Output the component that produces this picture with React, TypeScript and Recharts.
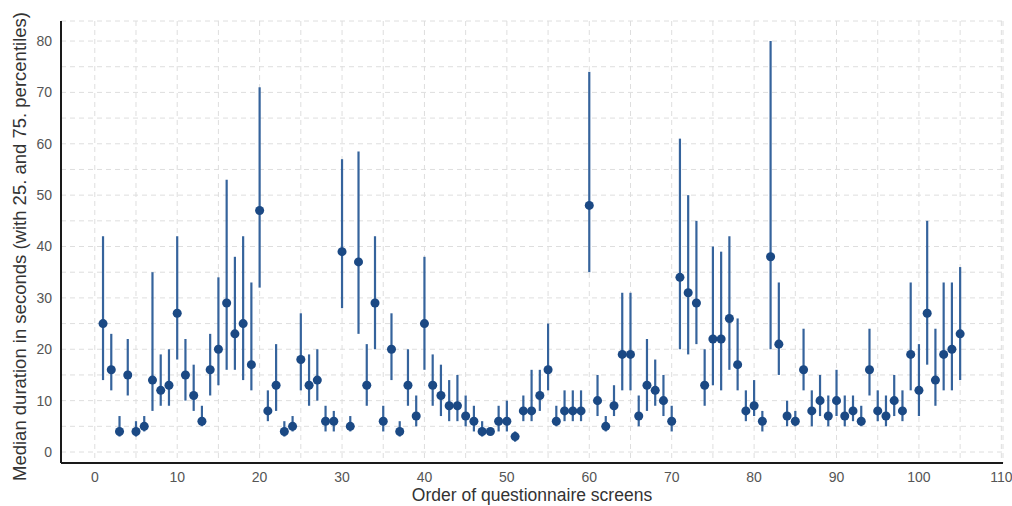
import React from "react";
import { ScatterChart, Scatter, XAxis, YAxis, CartesianGrid, ErrorBar, Label } from "recharts";

// screen order 1..105
const screens = Array.from({ length: 105 }, (_, i) => i + 1);

const medians = [
  25, 16, 4, 15, 4, 5, 14, 12, 13, 27,
  15, 11, 6, 16, 20, 29, 23, 25, 17, 47,
  8, 13, 4, 5, 18, 13, 14, 6, 6, 39,
  5, 37, 13, 29, 6, 20, 4, 13, 7, 25,
  13, 11, 9, 9, 7, 6, 4, 4, 6, 6,
  3, 8, 8, 11, 16, 6, 8, 8, 8, 48,
  10, 5, 9, 19, 19, 7, 13, 12, 10, 6,
  34, 31, 29, 13, 22, 22, 26, 17, 8, 9,
  6, 38, 21, 7, 6, 16, 8, 10, 7, 10,
  7, 8, 6, 16, 8, 7, 10, 8, 19, 12,
  27, 14, 19, 20, 23,
];

const p25 = [
  14, 12, 3, 11, 3, 4, 8, 9, 9, 18,
  10, 8, 5, 11, 13, 16, 16, 14, 12, 32,
  6, 8, 3, 4, 12, 9, 10, 4, 4, 28,
  4, 23, 9, 20, 4, 14, 3, 9, 5, 16,
  9, 7, 6, 6, 5, 4, 3, 3.5, 4, 4,
  2, 6, 6, 8, 12, 5, 6, 6, 6, 35,
  7, 4, 7, 12, 12, 5, 8, 9, 7, 4,
  20, 19, 21, 9, 13, 12, 16, 12, 6, 7,
  4, 20, 15, 5, 5, 12, 5, 7, 5, 7,
  5, 6, 5, 11, 6, 5, 7, 6, 12, 7,
  17, 9, 12, 12, 14,
];

const p75 = [
  42, 23, 7, 22, 6, 7, 35, 19, 20, 42,
  22, 17, 9, 23, 34, 53, 38, 42, 33, 71,
  12, 21, 6, 7, 27, 19, 20, 9, 8, 57,
  7, 58.5, 21, 42, 9, 27, 6, 20, 11, 38,
  19, 17, 14, 15, 11, 9, 6, 4.5, 9, 10,
  4, 11, 16, 16, 25, 9, 12, 12, 12, 74,
  15, 7, 13, 31, 31, 11, 22, 18, 15, 9,
  61, 50, 45, 20, 40, 39, 42, 26, 12, 14,
  8, 80, 33, 10, 8, 24, 12, 15, 11, 16,
  11, 11, 9, 24, 12, 11, 15, 12, 33, 21,
  45, 24, 33, 33, 36,
];

const xTicks = Array.from({ length: 23 }, (_, i) => i * 5);
const yTicks = Array.from({ length: 17 }, (_, i) => i * 5);

const rows = screens.map((s, i) => ({
  screen: s,
  median: medians[i],
  err: [medians[i] - p25[i], p75[i] - medians[i]],
}));

const FONT = "'Liberation Sans', Arial, sans-serif";
const tickStyle = { fill: "#555", fontSize: 14, fontFamily: FONT };

export default function App() {
  return (
    <div style={{ position: "absolute", left: 0, top: 0, background: "#fff" }}>
      <ScatterChart width={1012} height={506} margin={{ top: 21, right: 9, bottom: 13, left: 11 }}>
        <CartesianGrid stroke="#dedede" strokeDasharray="5 4" />
        <XAxis
          type="number"
          dataKey="screen"
          domain={[-4.1, 110.2]}
          ticks={xTicks}
          interval={0}
          tickFormatter={(v) => (v % 10 === 0 ? String(v) : "")}
          tickLine={false}
          tickMargin={3}
          height={30}
          axisLine={{ stroke: "#1a1a1a", strokeWidth: 2 }}
          tick={tickStyle}
          allowDataOverflow
        >
          <Label
            content={() => (
              <text x={532} y={501} textAnchor="middle" fontSize={17.5} fontFamily={FONT} fill="#333">
                Order of questionnaire screens
              </text>
            )}
          />
        </XAxis>
        <YAxis
          type="number"
          dataKey="median"
          domain={[-2.14, 83.9]}
          ticks={yTicks}
          interval={0}
          tickFormatter={(v) => (v % 10 === 0 ? String(v) : "")}
          tickLine={false}
          tickMargin={3}
          width={50}
          axisLine={{ stroke: "#1a1a1a", strokeWidth: 2 }}
          tick={tickStyle}
          allowDataOverflow
        >
          <Label
            content={() => (
              <text
                x={26}
                y={481}
                transform="rotate(-90, 26, 481)"
                textAnchor="start"
                fontSize={18.5}
                fontFamily={FONT}
                fill="#333"
              >
                Median duration in seconds (with 25. and 75. percentiles)
              </text>
            )}
          />
        </YAxis>
        <Scatter data={rows} fill="#1b4984" isAnimationActive={false}>
          <ErrorBar dataKey="err" direction="y" width={0} stroke="#35639c" strokeWidth={2.2} isAnimationActive={false} />
        </Scatter>
      </ScatterChart>
    </div>
  );
}
